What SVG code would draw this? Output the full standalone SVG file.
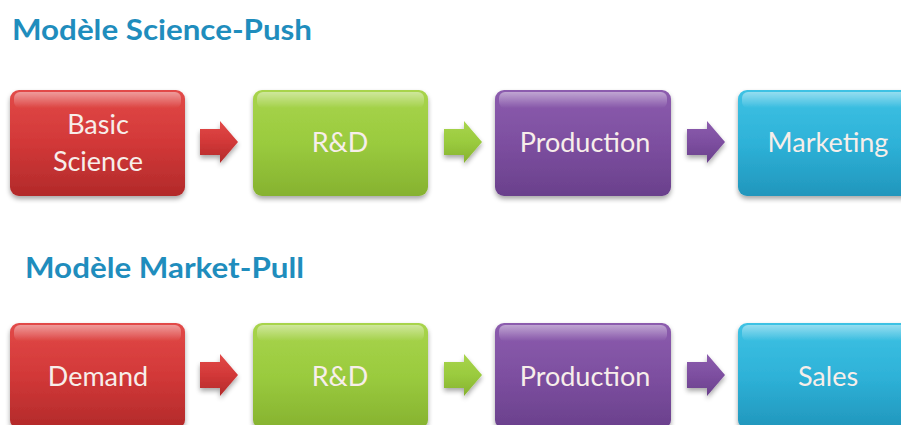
<svg xmlns="http://www.w3.org/2000/svg" xmlns:xlink="http://www.w3.org/1999/xlink" width="901" height="425" viewBox="0 0 901 425">
<defs>
  <linearGradient id="gRed" x1="0" y1="0" x2="0" y2="1">
    <stop offset="0" stop-color="#e24a48"/><stop offset="0.5" stop-color="#d23838"/><stop offset="1" stop-color="#b22a2a"/>
  </linearGradient>
  <linearGradient id="gGreen" x1="0" y1="0" x2="0" y2="1">
    <stop offset="0" stop-color="#a8d44c"/><stop offset="0.5" stop-color="#9acb3e"/><stop offset="1" stop-color="#86b230"/>
  </linearGradient>
  <linearGradient id="gPurple" x1="0" y1="0" x2="0" y2="1">
    <stop offset="0" stop-color="#8c5cae"/><stop offset="0.5" stop-color="#7d4fa0"/><stop offset="1" stop-color="#6a408c"/>
  </linearGradient>
  <linearGradient id="gCyan" x1="0" y1="0" x2="0" y2="1">
    <stop offset="0" stop-color="#3ec2e4"/><stop offset="0.5" stop-color="#2eb2d8"/><stop offset="1" stop-color="#2196bc"/>
  </linearGradient>
  <linearGradient id="gGloss" x1="0" y1="0" x2="0" y2="1">
    <stop offset="0" stop-color="#ffffff" stop-opacity="0.45"/><stop offset="1" stop-color="#ffffff" stop-opacity="0"/>
  </linearGradient>
  <filter id="shadow" x="-10%" y="-10%" width="120%" height="130%">
    <feGaussianBlur in="SourceAlpha" stdDeviation="2.5"/>
    <feOffset dx="0" dy="3" result="b"/>
    <feComponentTransfer><feFuncA type="linear" slope="0.35"/></feComponentTransfer>
    <feMerge><feMergeNode/><feMergeNode in="SourceGraphic"/></feMerge>
  </filter>
  <path id="arrow" d="M0,-13 H20 V-21 L38,0 L20,21 V13 H0 Z"/>
</defs>
<style>
  .title { font-family: Lato, "Open Sans", "Liberation Sans", sans-serif; font-weight: bold; font-size: 29px; fill: #1f8dbd; }
  .lbl { font-family: Lato, "Open Sans", "Liberation Sans", sans-serif; font-size: 27px; fill: #f7eeea; text-anchor: middle; }
  .box { filter: url(#shadow); }
  .gloss { fill: url(#gGloss); }
</style>
<rect width="901" height="425" fill="#ffffff"/>

<text class="title" x="12" y="40" textLength="300" lengthAdjust="spacingAndGlyphs">Modèle Science-Push</text>
<text class="title" x="25" y="278" textLength="279" lengthAdjust="spacingAndGlyphs">Modèle Market-Pull</text>

<g id="basic-science">
  <rect class="box" x="10" y="90" width="175" height="106" rx="9" fill="url(#gRed)"/>
  <rect class="gloss" x="14" y="92" width="167" height="16" rx="6"/>
  <text class="lbl" x="98" y="134">Basic</text>
  <text class="lbl" x="98" y="171">Science</text>
</g>
<g id="rd-1">
  <rect class="box" x="253" y="90" width="175" height="106" rx="9" fill="url(#gGreen)"/>
  <rect class="gloss" x="257" y="92" width="167" height="16" rx="6"/>
  <text class="lbl" x="340" y="152">R&amp;D</text>
</g>
<g id="production-1">
  <rect class="box" x="495" y="90" width="176" height="106" rx="9" fill="url(#gPurple)"/>
  <rect class="gloss" x="499" y="92" width="168" height="16" rx="6"/>
  <text class="lbl" x="585" y="152">Production</text>
</g>
<g id="marketing">
  <rect class="box" x="738" y="90" width="176" height="106" rx="9" fill="url(#gCyan)"/>
  <rect class="gloss" x="742" y="92" width="168" height="16" rx="6"/>
  <text class="lbl" x="828" y="152">Marketing</text>
</g>

<g id="demand">
  <rect class="box" x="10" y="323" width="175" height="106" rx="9" fill="url(#gRed)"/>
  <rect class="gloss" x="14" y="325" width="167" height="16" rx="6"/>
  <text class="lbl" x="98" y="386">Demand</text>
</g>
<g id="rd-2">
  <rect class="box" x="253" y="323" width="175" height="106" rx="9" fill="url(#gGreen)"/>
  <rect class="gloss" x="257" y="325" width="167" height="16" rx="6"/>
  <text class="lbl" x="340" y="386">R&amp;D</text>
</g>
<g id="production-2">
  <rect class="box" x="495" y="323" width="176" height="106" rx="9" fill="url(#gPurple)"/>
  <rect class="gloss" x="499" y="325" width="168" height="16" rx="6"/>
  <text class="lbl" x="585" y="386">Production</text>
</g>
<g id="sales">
  <rect class="box" x="738" y="323" width="176" height="106" rx="9" fill="url(#gCyan)"/>
  <rect class="gloss" x="742" y="325" width="168" height="16" rx="6"/>
  <text class="lbl" x="828" y="386">Sales</text>
</g>

<g id="connectors" class="box">
  <use xlink:href="#arrow" transform="translate(200,142)" fill="url(#gRed)"/>
  <use xlink:href="#arrow" transform="translate(444,142)" fill="url(#gGreen)"/>
  <use xlink:href="#arrow" transform="translate(687,142)" fill="url(#gPurple)"/>
  <use xlink:href="#arrow" transform="translate(200,375)" fill="url(#gRed)"/>
  <use xlink:href="#arrow" transform="translate(444,375)" fill="url(#gGreen)"/>
  <use xlink:href="#arrow" transform="translate(687,375)" fill="url(#gPurple)"/>
</g>
</svg>
